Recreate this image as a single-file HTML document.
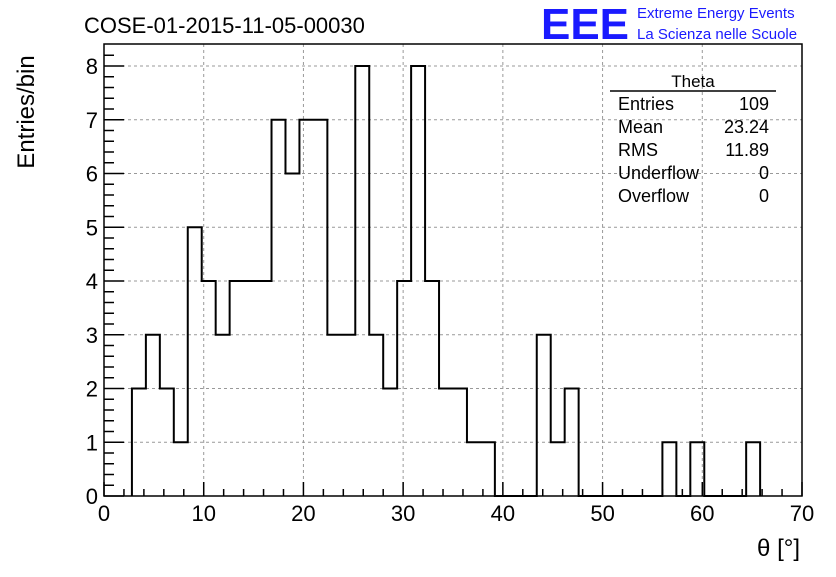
<!DOCTYPE html>
<html><head><meta charset="utf-8"><style>
body{margin:0;background:#fff;font-family:"Liberation Sans",sans-serif}
svg text{font-family:"Liberation Sans",sans-serif}
</style></head><body>
<svg width="836" height="572" viewBox="0 0 836 572" xmlns="http://www.w3.org/2000/svg">
<g id="grid"></g>
<g id="axes"></g>
<path id="hist" fill="none" stroke="#000" stroke-width="2"/>
<rect x="104" y="44" width="698" height="452" fill="none" stroke="#000" stroke-width="1.5"/>
<text x="84" y="33" font-size="22">COSE-01-2015-11-05-00030</text>
<text x="541" y="39" font-size="44" fill="#1a1aff" font-weight="bold" textLength="88" lengthAdjust="spacingAndGlyphs">EEE</text>
<text x="637" y="18" font-size="15" fill="#1a1aff">Extreme Energy Events</text>
<text x="637" y="39" font-size="15" fill="#1a1aff">La Scienza nelle Scuole</text>
<text x="34" y="112" font-size="24" transform="rotate(-90 34 112)" text-anchor="middle" dx="0"><tspan x="34" y="112" dx="0">Entries/bin</tspan></text>
<text x="800" y="556" font-size="24" text-anchor="end">θ [°]</text>
<g font-size="18">
<text x="693" y="87" text-anchor="middle" font-size="17">Theta</text>
<line x1="610" y1="91" x2="776" y2="91" stroke="#000" stroke-width="1.5"/>
<text x="618" y="110">Entries</text><text x="769" y="110" text-anchor="end">109</text>
<text x="618" y="133">Mean</text><text x="769" y="133" text-anchor="end">23.24</text>
<text x="618" y="156">RMS</text><text x="769" y="156" text-anchor="end">11.89</text>
<text x="618" y="179">Underflow</text><text x="769" y="179" text-anchor="end">0</text>
<text x="618" y="202">Overflow</text><text x="769" y="202" text-anchor="end">0</text>
</g>
</svg>
<script>
const binStart = 2.8;
const binWidth = 1.4;
const counts = [2,3,2,1,5,4,3,4,4,4,7,6,7,7,3,3,8,3,2,4,8,4,2,2,1,1,0,0,0,3,1,2,0,0,0,0,0,0,1,0,1,0,0,0,1];
const xTicks = [0,10,20,30,40,50,60,70];
const yTicks = [0,1,2,3,4,5,6,7,8];
const NS="http://www.w3.org/2000/svg";
const X0=104,X1=802,Y0=496,Y8=66;
const xs=v=>X0+(X1-X0)*v/70;
const ys=v=>Y0-(Y0-Y8)*v/8;
const grid=document.getElementById('grid'),axes=document.getElementById('axes');
function ln(p,x1,y1,x2,y2,st,w,da){const l=document.createElementNS(NS,'line');l.setAttribute('x1',x1);l.setAttribute('y1',y1);l.setAttribute('x2',x2);l.setAttribute('y2',y2);l.setAttribute('stroke',st);l.setAttribute('stroke-width',w);if(da)l.setAttribute('stroke-dasharray',da);p.appendChild(l);return l;}
function tx(p,x,y,s,a){const t=document.createElementNS(NS,'text');t.setAttribute('x',x);t.setAttribute('y',y);t.setAttribute('font-size','22');t.setAttribute('text-anchor',a);t.textContent=s;p.appendChild(t);return t;}
xTicks.forEach(v=>{const x=xs(v);
 if(v>0&&v<70){const g=ln(grid,x,44,x,Y0,'#999',1,'3,3');}
 const t=ln(axes,x,Y0,x,Y0-14,'#000',1.5);
 const l=tx(axes,x,Y0+25,String(v),'middle');});
for(let v=2;v<70;v+=2){if(v%10)ln(axes,xs(v),Y0,xs(v),Y0-7,'#000',1.5);}
yTicks.forEach(v=>{const y=ys(v);
 if(v>0){const g=ln(grid,X0,y,X1,y,'#999',1,'3,3');}
 const t=ln(axes,X0,y,X0+20,y,'#000',1.5);
 const l=tx(axes,X0-6,y+8,String(v),'end');});
for(let i=1;i<8*5+2;i++){const v=i*0.2;if(i%5&&v<=8.6)ln(axes,X0,ys(v),X0+10,ys(v),'#000',1.5);}
let d='M'+xs(binStart)+' '+ys(0);
counts.forEach((c,i)=>{const a=binStart+i*binWidth,b=a+binWidth;d+=' L'+xs(a)+' '+ys(c)+' L'+xs(b)+' '+ys(c);});
d+=' L'+xs(binStart+counts.length*binWidth)+' '+ys(0);
document.getElementById('hist').setAttribute('d',d);
</script>
</body></html>
